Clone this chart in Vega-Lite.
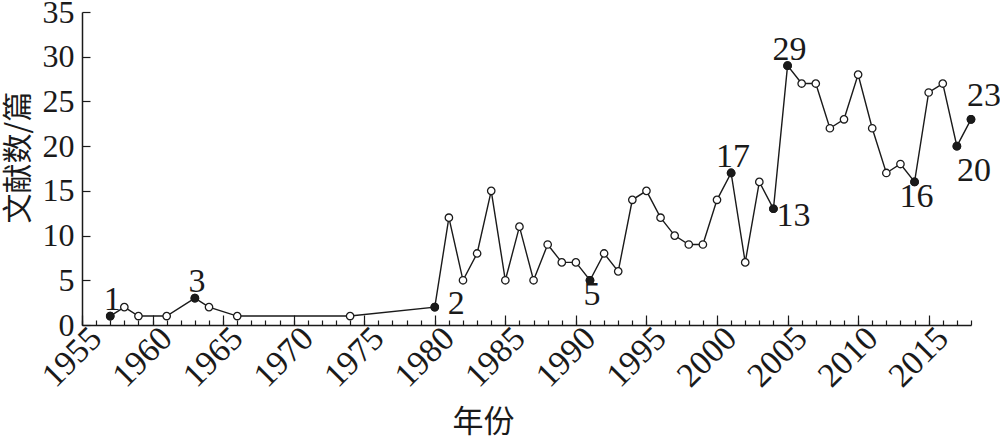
{
  "$schema": "https://vega.github.io/schema/vega-lite/v6.json",
  "width": 889,
  "height": 313,
  "autosize": {"type": "none"},
  "padding": {"left": 82, "top": 12, "right": 29, "bottom": 117},
  "background": "white",
  "config": {
    "view": {"stroke": null},
    "font": "Liberation Serif, Times New Roman, serif",
    "axis": {"grid": false, "domainColor": "#1a1a1a", "tickColor": "#1a1a1a", "labelColor": "#1a1a1a", "titleColor": "#1a1a1a", "domainWidth": 1.5, "tickWidth": 1.2}
  },
  "data": {"values": [
    {"year": 1957, "count": 1, "label": "1"},
    {"year": 1958, "count": 2, "label": null},
    {"year": 1959, "count": 1, "label": null},
    {"year": 1961, "count": 1, "label": null},
    {"year": 1963, "count": 3, "label": "3"},
    {"year": 1964, "count": 2, "label": null},
    {"year": 1966, "count": 1, "label": null},
    {"year": 1974, "count": 1, "label": null},
    {"year": 1980, "count": 2, "label": "2"},
    {"year": 1981, "count": 12, "label": null},
    {"year": 1982, "count": 5, "label": null},
    {"year": 1983, "count": 8, "label": null},
    {"year": 1984, "count": 15, "label": null},
    {"year": 1985, "count": 5, "label": null},
    {"year": 1986, "count": 11, "label": null},
    {"year": 1987, "count": 5, "label": null},
    {"year": 1988, "count": 9, "label": null},
    {"year": 1989, "count": 7, "label": null},
    {"year": 1990, "count": 7, "label": null},
    {"year": 1991, "count": 5, "label": "5"},
    {"year": 1992, "count": 8, "label": null},
    {"year": 1993, "count": 6, "label": null},
    {"year": 1994, "count": 14, "label": null},
    {"year": 1995, "count": 15, "label": null},
    {"year": 1996, "count": 12, "label": null},
    {"year": 1997, "count": 10, "label": null},
    {"year": 1998, "count": 9, "label": null},
    {"year": 1999, "count": 9, "label": null},
    {"year": 2000, "count": 14, "label": null},
    {"year": 2001, "count": 17, "label": "17"},
    {"year": 2002, "count": 7, "label": null},
    {"year": 2003, "count": 16, "label": null},
    {"year": 2004, "count": 13, "label": "13"},
    {"year": 2005, "count": 29, "label": "29"},
    {"year": 2006, "count": 27, "label": null},
    {"year": 2007, "count": 27, "label": null},
    {"year": 2008, "count": 22, "label": null},
    {"year": 2009, "count": 23, "label": null},
    {"year": 2010, "count": 28, "label": null},
    {"year": 2011, "count": 22, "label": null},
    {"year": 2012, "count": 17, "label": null},
    {"year": 2013, "count": 18, "label": null},
    {"year": 2014, "count": 16, "label": "16"},
    {"year": 2015, "count": 26, "label": null},
    {"year": 2016, "count": 27, "label": null},
    {"year": 2017, "count": 20, "label": "20"},
    {"year": 2018, "count": 23, "label": "23"}
  ]},
  "resolve": {"axis": {"x": "independent"}},
  "encoding": {
    "x": {"field": "year", "type": "quantitative", "scale": {"domain": [1955, 2018], "nice": false, "zero": false}},
    "y": {"field": "count", "type": "quantitative", "scale": {"domain": [0, 35], "nice": false, "zero": true}}
  },
  "layer": [
    {
      "mark": {"type": "line", "color": "#1a1a1a", "strokeWidth": 1.4},
      "encoding": {
        "x": {"field": "year", "type": "quantitative", "scale": {"domain": [1955, 2018], "nice": false, "zero": false},
          "axis": {"orient": "bottom", "values": [1955, 1960, 1965, 1970, 1975, 1980, 1985, 1990, 1995, 2000, 2005, 2010, 2015], "format": "d", "tickSize": -10, "labelPadding": 18, "labelOffset": 14, "labelOverlap": false, "labelAngle": -45, "labelAlign": "right", "labelBaseline": "middle", "labelFontSize": 34, "labelFont": "Liberation Serif, Times New Roman, serif", "title": "年份", "titleFont": "Noto Sans CJK SC", "titleFontSize": 31, "titleFontWeight": "normal", "titleX": 401, "titleY": 113, "titleAlign": "center", "titleBaseline": "bottom"}},
        "y": {"field": "count", "type": "quantitative", "scale": {"domain": [0, 35], "nice": false, "zero": true},
          "axis": {"values": [0, 5, 10, 15, 20, 25, 30, 35], "tickSize": -8, "labelPadding": 16, "labelFontSize": 32, "labelFont": "Liberation Serif, Times New Roman, serif", "title": "文献数/篇", "titleFont": "Noto Sans CJK SC", "titleFontSize": 30, "titleFontWeight": "normal", "titleX": -64, "titleY": 145, "titleAlign": "center", "titleBaseline": "middle", "titleAngle": -90}}
      }
    },
    {
      "mark": {"type": "point", "shape": "circle", "filled": true, "fill": "white", "stroke": "#1a1a1a", "strokeWidth": 1.3, "size": 55, "opacity": 1},
      "encoding": {
        "x": {"field": "year", "type": "quantitative", "scale": {"domain": [1955, 2018], "nice": false, "zero": false},
          "axis": {"orient": "bottom", "values": [1955,1956,1957,1958,1959,1960,1961,1962,1963,1964,1965,1966,1967,1968,1969,1970,1971,1972,1973,1974,1975,1976,1977,1978,1979,1980,1981,1982,1983,1984,1985,1986,1987,1988,1989,1990,1991,1992,1993,1994,1995,1996,1997,1998,1999,2000,2001,2002,2003,2004,2005,2006,2007,2008,2009,2010,2011,2012,2013,2014,2015,2016,2017,2018], "tickSize": -5, "labels": false, "domain": false, "title": null}}
      }
    },
    {
      "transform": [{"filter": "datum.label != null"}],
      "mark": {"type": "point", "shape": "circle", "filled": true, "fill": "#1a1a1a", "stroke": "#1a1a1a", "strokeWidth": 1.3, "size": 55, "opacity": 1},
      "encoding": {"x": {"field": "year", "type": "quantitative", "axis": null}}
    },
    {
      "transform": [{"filter": "datum.year == 1957 || datum.year == 1963 || datum.year == 2001 || datum.year == 2005"}],
      "mark": {"type": "text", "font": "Liberation Serif, Times New Roman, serif", "fontSize": 34, "color": "#1a1a1a", "align": "center", "baseline": "alphabetic", "dx": 2, "dy": -6},
      "encoding": {"x": {"field": "year", "type": "quantitative", "axis": null}, "text": {"field": "label"}}
    },
    {
      "transform": [{"filter": "datum.year == 2018"}],
      "mark": {"type": "text", "font": "Liberation Serif, Times New Roman, serif", "fontSize": 34, "color": "#1a1a1a", "align": "center", "baseline": "alphabetic", "dx": 13, "dy": -13},
      "encoding": {"x": {"field": "year", "type": "quantitative", "axis": null}, "text": {"field": "label"}}
    },
    {
      "transform": [{"filter": "datum.year == 1980"}],
      "mark": {"type": "text", "font": "Liberation Serif, Times New Roman, serif", "fontSize": 34, "color": "#1a1a1a", "align": "left", "baseline": "alphabetic", "dx": 13, "dy": 7},
      "encoding": {"x": {"field": "year", "type": "quantitative", "axis": null}, "text": {"field": "label"}}
    },
    {
      "transform": [{"filter": "datum.year == 2004"}],
      "mark": {"type": "text", "font": "Liberation Serif, Times New Roman, serif", "fontSize": 34, "color": "#1a1a1a", "align": "left", "baseline": "alphabetic", "dx": 3, "dy": 17},
      "encoding": {"x": {"field": "year", "type": "quantitative", "axis": null}, "text": {"field": "label"}}
    },
    {
      "transform": [{"filter": "datum.year == 1991 || datum.year == 2014"}],
      "mark": {"type": "text", "font": "Liberation Serif, Times New Roman, serif", "fontSize": 34, "color": "#1a1a1a", "align": "center", "baseline": "alphabetic", "dx": 2, "dy": 25},
      "encoding": {"x": {"field": "year", "type": "quantitative", "axis": null}, "text": {"field": "label"}}
    },
    {
      "transform": [{"filter": "datum.year == 2017"}],
      "mark": {"type": "text", "font": "Liberation Serif, Times New Roman, serif", "fontSize": 34, "color": "#1a1a1a", "align": "left", "baseline": "alphabetic", "dx": 0, "dy": 35},
      "encoding": {"x": {"field": "year", "type": "quantitative", "axis": null}, "text": {"field": "label"}}
    }
  ]
}
